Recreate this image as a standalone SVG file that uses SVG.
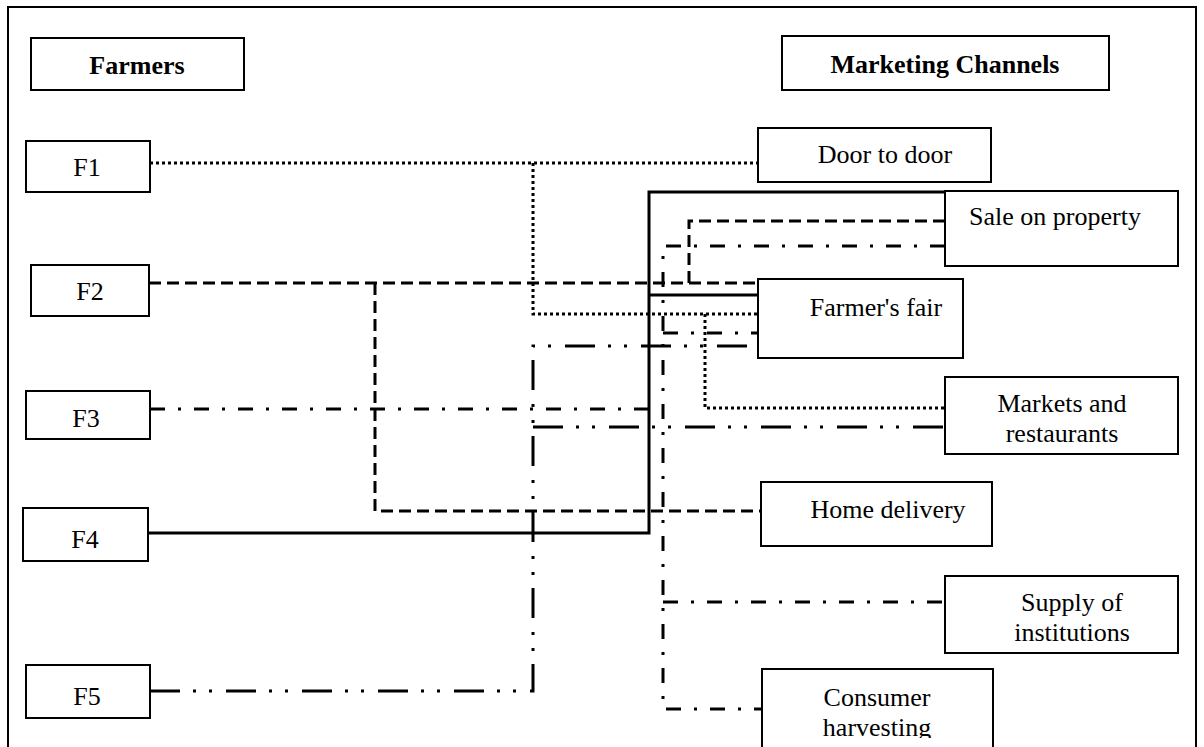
<svg xmlns="http://www.w3.org/2000/svg" width="1204" height="747" viewBox="0 0 1204 747">
<defs>
<style>
.box{fill:#fff;stroke:#000;stroke-width:2}
.t{font-family:"Liberation Serif","Times New Roman",serif;font-size:26px;fill:#000;text-anchor:middle}
.b{font-weight:bold}
.c{fill:none;stroke:#000;stroke-width:3;stroke-linecap:butt;stroke-linejoin:miter}
.dot{stroke-dasharray:3 3}
.dash{stroke-dasharray:12 6}
.dd{stroke-dasharray:15 13 3 13}
.ddd{stroke-dasharray:30 13 3 13 3 14}
</style>
<clipPath id="clipBottom"><rect x="0" y="0" width="1204" height="738"/></clipPath>
</defs>
<rect width="1204" height="747" fill="#fff"/>
<g id="frame"><path d="M8,760 V7 H1196 V760" fill="none" stroke="#000" stroke-width="2"/></g>

<g id="connectors">
<!-- F1 dotted -->
<path class="c dot" d="M150,163 H758"/>
<path class="c dot" d="M533,163 V314 H758"/>
<path class="c dot" d="M705,314 V408 H945"/>
<!-- F2 dashed -->
<path class="c dash" d="M149,283 H758"/>
<path class="c dash" d="M689,283 V221 H945"/>
<path class="c dash" d="M375,283 V511 H761"/>
<!-- F3 dash-dot -->
<path class="c dd" d="M150,409 H663"/>
<path class="c dd" d="M945,246 H663 V709 H762"/>
<path class="c dd" d="M663,333 H758"/>
<path class="c dd" d="M663,602 H945"/>
<!-- F4 solid -->
<path class="c" d="M148,533 H649 V192 H945"/>
<path class="c" d="M649,295 H758"/>
<!-- F5 dash-dot-dot -->
<path class="c ddd" d="M150,691 H533 V346 H758"/>
<path class="c ddd" d="M533,427 H945"/>
</g>

<g id="farmers"><rect class="box" x="31" y="38" width="213" height="52"/><text class="t b" x="137" y="74">Farmers</text></g>
<g id="marketing-channels"><rect class="box" x="782" y="36" width="327" height="54"/><text class="t b" x="945" y="73">Marketing Channels</text></g>

<g id="F1"><rect class="box" x="26" y="141" width="124" height="51"/><text class="t" x="87" y="176">F1</text></g>
<g id="F2"><rect class="box" x="31" y="265" width="118" height="51"/><text class="t" x="90" y="300">F2</text></g>
<g id="F3"><rect class="box" x="26" y="391" width="124" height="48"/><text class="t" x="86" y="427">F3</text></g>
<g id="F4"><rect class="box" x="23" y="508" width="125" height="53"/><text class="t" x="85" y="548">F4</text></g>
<g id="F5"><rect class="box" x="26" y="665" width="124" height="53"/><text class="t" x="87" y="705">F5</text></g>

<g id="door-to-door"><rect class="box" x="758" y="128" width="233" height="54"/><text class="t" x="885" y="163">Door to door</text></g>
<g id="sale-on-property"><rect class="box" x="945" y="191" width="233" height="75"/><text class="t" x="1055" y="225">Sale on property</text></g>
<g id="farmers-fair"><rect class="box" x="758" y="279" width="205" height="79"/><text class="t" x="876" y="316">Farmer's fair</text></g>
<g id="markets-restaurants"><rect class="box" x="945" y="377" width="233" height="77"/><text class="t" x="1062" y="412">Markets and</text><text class="t" x="1062" y="442">restaurants</text></g>
<g id="home-delivery"><rect class="box" x="761" y="482" width="231" height="64"/><text class="t" x="888" y="518">Home delivery</text></g>
<g id="supply-institutions"><rect class="box" x="945" y="576" width="233" height="77"/><text class="t" x="1072" y="611">Supply of</text><text class="t" x="1072" y="641">institutions</text></g>
<g id="consumer-harvesting"><rect class="box" x="762" y="669" width="231" height="100"/><g clip-path="url(#clipBottom)"><text class="t" x="877" y="706">Consumer</text><text class="t" x="877" y="736">harvesting</text></g></g>
</svg>
